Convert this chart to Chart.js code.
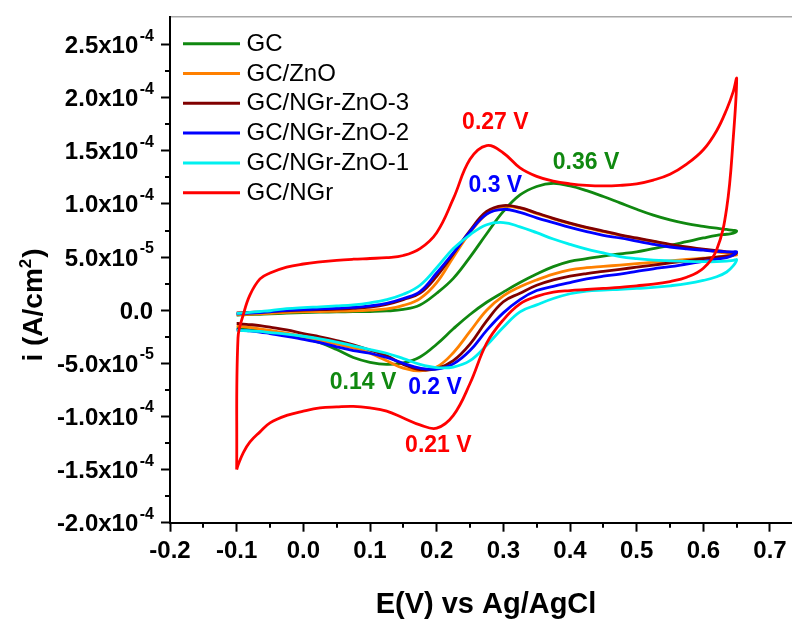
<!DOCTYPE html>
<html>
<head>
<meta charset="utf-8">
<title>Cyclic voltammograms</title>
<script src="https://cdn.jsdelivr.net/npm/chart.js@4.4.1/dist/chart.umd.min.js"></script>
<style>
  html, body { margin: 0; padding: 0; background: #fff; }
  canvas { display: block; }
</style>
</head>
<body>
<canvas id="cv" width="792" height="619"></canvas>
<script>
// potential steps of the anodic sweep (V vs Ag/AgCl); the cathodic sweep runs back over them
const sweepE = [-0.1, -0.098, -0.09, -0.08, -0.065, -0.05, -0.025, 0, 0.025, 0.05, 0.075, 0.1,
  0.125, 0.15, 0.175, 0.2, 0.225, 0.25, 0.275, 0.3, 0.325, 0.35, 0.375, 0.4, 0.425, 0.45,
  0.475, 0.5, 0.525, 0.55, 0.575, 0.6, 0.62, 0.635, 0.645, 0.65];
const backE = sweepE.slice(0, -1).reverse();

// current densities in units of 1e-5 A/cm2
const gcFwd = [-0.45, -0.45, -0.43, -0.41, -0.38, -0.35, -0.28, -0.22, -0.18, -0.16, -0.14, -0.12,
  -0.07, 0.08, 0.5, 1.6, 3.0, 5.0, 7.2, 9.3, 10.85, 11.65, 11.95, 11.7, 11.25, 10.7,
  10.1, 9.5, 8.95, 8.5, 8.15, 7.9, 7.72, 7.6, 7.52, 7.45];
const gcRev = [7.25, 7.15, 7.05, 6.8, 6.45, 6.1, 5.8, 5.5, 5.3, 5.1, 4.85, 4.6, 4.1, 3.4, 2.6,
  1.7, 0.75, -0.4, -1.75, -3.2, -4.4, -4.95, -5.1, -4.9, -4.45, -3.7, -3.05, -2.65, -2.35,
  -2.1, -1.95, -1.85, -1.78, -1.72, -1.7];

const znoFwd = [-0.42, -0.42, -0.4, -0.38, -0.35, -0.3, -0.2, -0.15, -0.12, -0.1, -0.07, 0.0,
  0.12, 0.45, 1.1, 2.6, 5.0, 7.3, 9.05, 9.75, 9.6, 9.1, 8.6, 8.15, 7.75, 7.4,
  7.05, 6.75, 6.45, 6.15, 5.9, 5.7, 5.5, 5.35, 5.25, 5.2];
const znoRev = [5.15, 5.1, 5.0, 4.9, 4.78, 4.65, 4.5, 4.38, 4.25, 4.12, 4.0, 3.8, 3.4, 2.85, 2.2,
  1.35, 0.0, -2.0, -4.0, -5.35, -5.7, -5.45, -4.75, -4.05, -3.55, -3.2, -2.85, -2.5, -2.15,
  -1.9, -1.75, -1.62, -1.55, -1.5, -1.48];

const ngrZno3Fwd = [-0.25, -0.25, -0.23, -0.2, -0.17, -0.12, -0.05, 0.0, 0.05, 0.1, 0.18, 0.3,
  0.55, 1.0, 1.6, 3.2, 5.3, 7.5, 9.3, 9.85, 9.65, 9.15, 8.65, 8.2, 7.8, 7.45,
  7.1, 6.8, 6.5, 6.2, 5.95, 5.75, 5.6, 5.5, 5.45, 5.4];
const ngrZno3Rev = [5.2, 5.1, 5.0, 4.85, 4.65, 4.45, 4.25, 4.05, 3.85, 3.65, 3.45, 3.2, 2.85, 2.35, 1.6,
  0.8, -1.0, -3.2, -4.75, -5.5, -5.6, -5.1, -4.3, -3.75, -3.25, -2.85, -2.5, -2.2, -1.85,
  -1.6, -1.45, -1.35, -1.3, -1.25, -1.25];

const ngrZno2Fwd = [-0.35, -0.35, -0.32, -0.28, -0.22, -0.15, -0.02, 0.05, 0.12, 0.18, 0.26, 0.4,
  0.65, 1.1, 1.75, 3.5, 5.4, 7.4, 9.05, 9.5, 9.2, 8.7, 8.25, 7.8, 7.4, 7.05,
  6.8, 6.5, 6.2, 5.95, 5.78, 5.65, 5.55, 5.5, 5.5, 5.5];
const ngrZno2Rev = [5.2, 4.95, 4.8, 4.6, 4.35, 4.1, 3.9, 3.65, 3.4, 3.2, 2.95, 2.6, 2.25, 1.85, 1.0,
  -0.25, -1.9, -3.8, -5.05, -5.55, -5.45, -5.0, -4.45, -4.05, -3.8, -3.45, -3.05, -2.75, -2.45,
  -2.2, -2.05, -1.95, -1.9, -1.85, -1.85];

const ngrZno1Fwd = [-0.3, -0.3, -0.25, -0.2, -0.12, -0.05, 0.15, 0.25, 0.32, 0.4, 0.5, 0.7,
  1.0, 1.5, 2.35, 4.0, 5.8, 7.1, 8.05, 8.25, 7.85, 7.3, 6.7, 6.2, 5.75, 5.4,
  5.05, 4.85, 4.72, 4.65, 4.6, 4.57, 4.57, 4.62, 4.7, 4.75];
const ngrZno1Rev = [4.2, 3.6, 3.15, 2.8, 2.5, 2.3, 2.15, 2.05, 1.97, 1.9, 1.8, 1.55, 1.1, 0.5, -0.15,
  -1.6, -3.3, -4.75, -5.35, -5.4, -5.1, -4.55, -4.05, -3.7, -3.35, -3.0, -2.7, -2.45, -2.25,
  -2.1, -2.0, -1.95, -1.92, -1.9, -1.9];

const ngrFwd = [-15.0, -2.6, -0.4, 1.45, 2.95, 3.5, 4.05, 4.35, 4.55, 4.7, 4.8, 4.87,
  4.95, 5.15, 5.8, 7.3, 10.5, 14.2, 15.5, 14.8, 13.4, 12.6, 12.15, 11.9, 11.75, 11.7,
  11.75, 11.9, 12.25, 12.8, 13.75, 15.1, 16.9, 18.9, 20.6, 21.8];
const ngrRev = [16.3, 9.6, 5.7, 3.95, 3.1, 2.7, 2.45, 2.3, 2.15, 2.05, 1.95, 1.85, 1.7, 1.3, 0.6,
  -0.9, -3.1, -6.9, -9.9, -11.1, -10.8, -10.15, -9.5, -9.2, -9.05, -9.1, -9.2, -9.5, -9.9,
  -10.6, -11.45, -12.4, -13.4, -14.6, -15.0];

const seriesNames = ['GC', 'GC/ZnO', 'GC/NGr-ZnO-3', 'GC/NGr-ZnO-2', 'GC/NGr-ZnO-1', 'GC/NGr'];
const seriesColors = ['#108810', '#ff8000', '#800000', '#0000ff', '#00f0f0', '#ff0000'];
const seriesFwd = [gcFwd, znoFwd, ngrZno3Fwd, ngrZno2Fwd, ngrZno1Fwd, ngrFwd];
const seriesRev = [gcRev, znoRev, ngrZno3Rev, ngrZno2Rev, ngrZno1Rev, ngrRev];
const drawOrder = [5, 4, 3, 2, 1, 0];

const xTicks = [-0.2, -0.1, 0.0, 0.1, 0.2, 0.3, 0.4, 0.5, 0.6, 0.7];
const yTicks = [-2.0e-4, -1.5e-4, -1.0e-4, -5.0e-5, 0, 5.0e-5, 1.0e-4, 1.5e-4, 2.0e-4, 2.5e-4];

const peakLabels = ['0.27 V', '0.36 V', '0.3 V', '0.14 V', '0.2 V', '0.21 V'];
const peakColors = ['#ff0000', '#108810', '#0000ff', '#108810', '#0000ff', '#ff0000'];

const UNIT = 1e-5;
const FONT = "'Liberation Sans', Arial, sans-serif";

function loop(fwd, rev) {
  const pts = sweepE.map((e, k) => ({ x: e, y: fwd[k] * UNIT }));
  return pts.concat(backE.map((e, k) => ({ x: e, y: rev[k] * UNIT })));
}

function sciParts(v) {
  if (Math.abs(v) < 1e-12) return null;
  const exp = Math.floor(Math.log10(Math.abs(v)) + 1e-9);
  return { mant: (v / Math.pow(10, exp)).toFixed(1), exp: String(exp) };
}

// axis labels with superscripts, minor ticks, legend and peak annotations
const cvDecor = {
  id: 'cvDecor',
  afterDraw(chart, args, opts) {
    const { ctx, chartArea: a, scales: { x, y } } = chart;
    ctx.save();

    ctx.strokeStyle = '#000';
    ctx.lineWidth = 2;
    ctx.beginPath();
    for (let k = 0; k < xTicks.length - 1; k++) {
      const px = Math.round(x.getPixelForValue((xTicks[k] + xTicks[k + 1]) / 2));
      ctx.moveTo(px, a.bottom);
      ctx.lineTo(px, a.bottom + 5);
    }
    for (let k = 0; k < yTicks.length - 1; k++) {
      const py = Math.round(y.getPixelForValue((yTicks[k] + yTicks[k + 1]) / 2));
      ctx.moveTo(a.left, py);
      ctx.lineTo(a.left - 5, py);
    }
    ctx.stroke();

    ctx.fillStyle = '#000';
    ctx.textAlign = 'right';
    ctx.textBaseline = 'alphabetic';
    yTicks.forEach(v => {
      const py = y.getPixelForValue(v);
      const p = sciParts(v);
      if (!p) {
        ctx.font = 'bold 24px ' + FONT;
        ctx.fillText('0.0', 153, py + 8.5);
        return;
      }
      ctx.font = 'bold 16px ' + FONT;
      ctx.fillText(p.exp, 154, py - 4);
      const w = ctx.measureText(p.exp).width;
      ctx.font = 'bold 24px ' + FONT;
      ctx.fillText(p.mant + 'x10', 154 - w - 1.5, py + 8.5);
    });

    // axis titles
    ctx.textAlign = 'center';
    ctx.font = 'bold 29px ' + FONT;
    ctx.fillText('E(V) vs Ag/AgCl', 486, 613);

    ctx.save();
    ctx.translate(42, 305);
    ctx.rotate(-Math.PI / 2);
    ctx.textAlign = 'left';
    ctx.font = 'bold 28px ' + FONT;
    const head = 'i (A/cm', tail = ')';
    const wHead = ctx.measureText(head).width, wTail = ctx.measureText(tail).width;
    ctx.font = 'bold 17px ' + FONT;
    const wSup = ctx.measureText('2').width;
    let cx = -(wHead + wSup + wTail + 1) / 2;
    ctx.font = 'bold 28px ' + FONT;
    ctx.fillText(head, cx, 0);
    cx += wHead;
    ctx.font = 'bold 17px ' + FONT;
    ctx.fillText('2', cx, -11);
    cx += wSup + 1;
    ctx.font = 'bold 28px ' + FONT;
    ctx.fillText(tail, cx, 0);
    ctx.restore();

    // legend
    ctx.textAlign = 'left';
    ctx.textBaseline = 'middle';
    ctx.font = '24px ' + FONT;
    chart.data.datasets.forEach((ds, k) => {
      const ly = opts.legendTop + k * opts.legendStep;
      ctx.strokeStyle = ds.borderColor;
      ctx.lineWidth = 3;
      ctx.beginPath();
      ctx.moveTo(opts.legendX, ly);
      ctx.lineTo(opts.legendX + 57, ly);
      ctx.stroke();
      ctx.fillStyle = '#000';
      ctx.fillText(ds.label, opts.legendX + 63.5, ly + 0.5);
    });

    // peak potentials
    ctx.textAlign = 'center';
    ctx.font = 'bold 23px ' + FONT;
    opts.notes.forEach((n, k) => {
      ctx.fillStyle = peakColors[k];
      ctx.fillText(peakLabels[k], x.getPixelForValue(n.e), y.getPixelForValue(n.i));
    });

    ctx.restore();
  }
};

new Chart(document.getElementById('cv'), {
  type: 'line',
  data: {
    datasets: seriesNames.map((name, k) => ({
      label: name,
      data: loop(seriesFwd[k], seriesRev[k]),
      borderColor: seriesColors[k],
      borderWidth: 2.8,
      pointRadius: 0,
      tension: 0.4,
      fill: false,
      order: drawOrder[k]
    }))
  },
  options: {
    responsive: false,
    animation: false,
    layout: { autoPadding: false, padding: { left: 161, right: 0, top: 17, bottom: 48.5 } },
    plugins: {
      legend: { display: false },
      tooltip: { enabled: false },
      cvDecor: {
        legendX: 183,
        legendTop: 43.7,
        legendStep: 29.8,
        notes: [
          { e: 0.288, i: 1.763e-4 },
          { e: 0.424, i: 1.392e-4 },
          { e: 0.288, i: 1.173e-4 },
          { e: 0.0895, i: -6.79e-5 },
          { e: 0.1975, i: -7.32e-5 },
          { e: 0.2025, i: -1.273e-4 }
        ]
      }
    },
    scales: {
      x: {
        type: 'linear',
        position: 'bottom',
        min: -0.2,
        max: 0.733,
        afterBuildTicks: axis => { axis.ticks = xTicks.map(v => ({ value: v })); },
        grid: { display: true, drawOnChartArea: false, drawTicks: true, tickLength: 9, tickColor: '#000', tickWidth: 2 },
        border: { color: '#000', width: 2 },
        ticks: {
          color: '#000',
          padding: 5,
          maxRotation: 0,
          autoSkip: false,
          font: { family: FONT, size: 24, weight: 'bold' },
          callback: v => Number(v).toFixed(1)
        }
      },
      xTop: {
        type: 'linear',
        position: 'top',
        min: -0.2,
        max: 0.733,
        grid: { display: true, drawOnChartArea: false, drawTicks: false },
        border: { color: '#a8a8a8', width: 1.5 },
        ticks: { display: false }
      },
      y: {
        type: 'linear',
        min: -2.0e-4,
        max: 2.76e-4,
        afterBuildTicks: axis => { axis.ticks = yTicks.map(v => ({ value: v })); },
        grid: { display: true, drawOnChartArea: false, drawTicks: true, tickLength: 9, tickColor: '#000', tickWidth: 2 },
        border: { color: '#000', width: 2 },
        ticks: { display: false }
      }
    }
  },
  plugins: [cvDecor]
});
</script>
</body>
</html>
